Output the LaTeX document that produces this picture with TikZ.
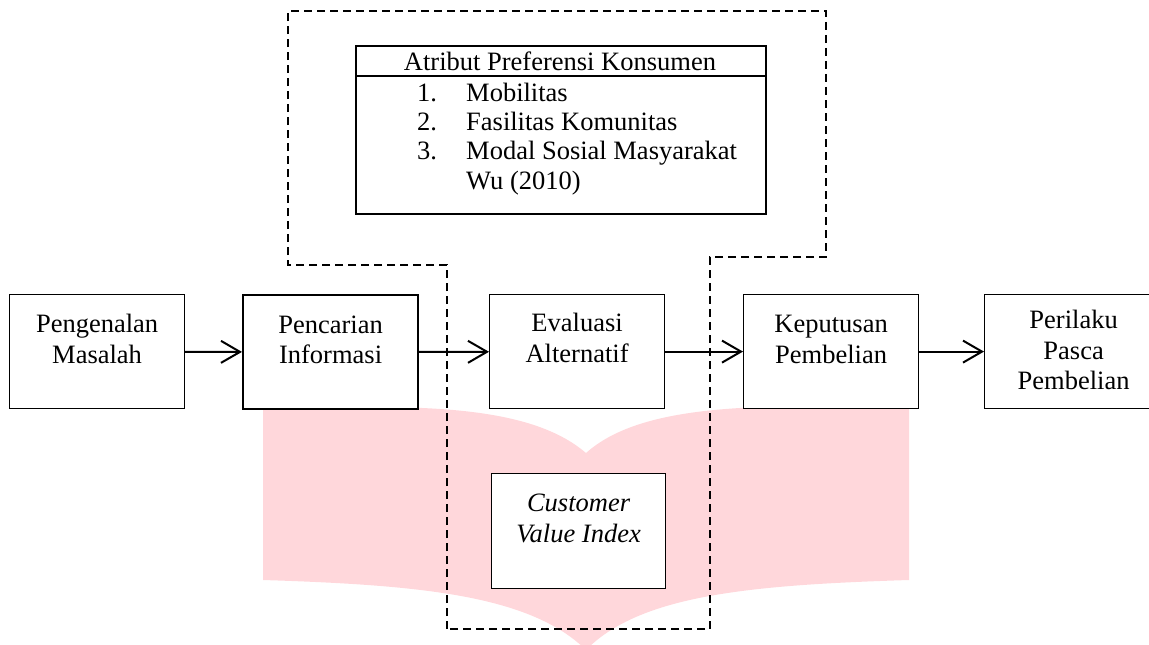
\documentclass[tikz,border=0pt]{standalone}
\usepackage{fontspec}
\setmainfont{Liberation Serif}
\usetikzlibrary{arrows.meta}
\definecolor{wmpink}{RGB}{255,215,219}
\newcommand\bxt[4]{\parbox[t][#2][t]{#1}{\centering\rule{0pt}{#3}#4}}
\begin{document}
\begin{tikzpicture}[x=1pt,y=-1pt,
  font=\fontsize{26.5}{30.5}\selectfont,
  box/.style={draw, line width=1.2pt, fill=white, inner sep=0pt, anchor=north west},
  flow/.style={line width=2pt, -{Straight Barb[length=19pt,width=22pt,line width=2pt]}},
  outline/.style={line width=2.2pt, dash pattern=on 8pt off 5pt},
  txt/.style={inner sep=0pt}]
\clip (0,0) rectangle (1149,645);
% background watermark
\fill[wmpink] (263,410) .. controls (420,403) and (530,405) .. (586,453)
  .. controls (640,405) and (750,403) .. (909,408)
  -- (909,580) .. controls (750,585) and (640,595) .. (586,650)
  .. controls (530,595) and (420,585) .. (263,580) -- cycle;
% dashed outline
\coordinate (d1) at (447,629);
\coordinate (d2) at (447,265);
\coordinate (d3) at (288,265);
\coordinate (d4) at (288,11);
\coordinate (d5) at (826,11);
\coordinate (d6) at (826,257);
\coordinate (d7) at (710,257);
\coordinate (d8) at (710,629);
\draw[outline] (d1) -- (d2) -- (d3) -- (d4) -- (d5) -- (d6) -- (d7) -- (d8) -- cycle;
% top attribute box
\node[box, line width=2pt, minimum width=410pt, minimum height=168pt] (attr) at (355,45) {};
\draw[line width=2pt] (attr.west |- 0,76) coordinate (hl) -- (attr.east |- hl);
\node[txt, anchor=base] (head) at (560,70) {Atribut Preferensi Konsumen};
\node[txt, anchor=base west] (n1) at (417,101.5) {1.};
\node[txt, anchor=base west] (n2) at (417,130.7) {2.};
\node[txt, anchor=base west] (n3) at (417,159.9) {3.};
\node[txt, anchor=base west] (i1) at (466,101.5) {Mobilitas};
\node[txt, anchor=base west] (i2) at (466,130.7) {Fasilitas Komunitas};
\node[txt, anchor=base west] (i3) at (466,159.9) {Modal Sosial Masyarakat};
\node[txt, anchor=base west] (i4) at (466,189.1) {Wu (2010)};
% process boxes
\node[box] (p1) at (9,294) {\bxt{175pt}{114pt}{38pt}{Pengenalan\\Masalah}};
\node[box, line width=2.2pt] (p2) at (242,294) {\bxt{175pt}{114pt}{38pt}{Pencarian\\Informasi}};
\node[box] (p3) at (489,294) {\bxt{175pt}{114pt}{37pt}{Evaluasi\\Alternatif}};
\node[box] (p4) at (743,294) {\bxt{175pt}{114pt}{38pt}{Keputusan\\Pembelian}};
\node[box] (p5) at (984,294) {\bxt{178pt}{114pt}{34pt}{Perilaku\\Pasca\\Pembelian}};
\node[box] (cvi) at (491,473) {\bxt{174pt}{115pt}{38pt}{\itshape Customer\\Value Index}};
% arrows
\draw[flow] (p1) -- (p2);
\draw[flow] (p2) -- (p3);
\draw[flow] (p3) -- (p4);
\draw[flow] (p4) -- (p5);
\end{tikzpicture}
\end{document}
